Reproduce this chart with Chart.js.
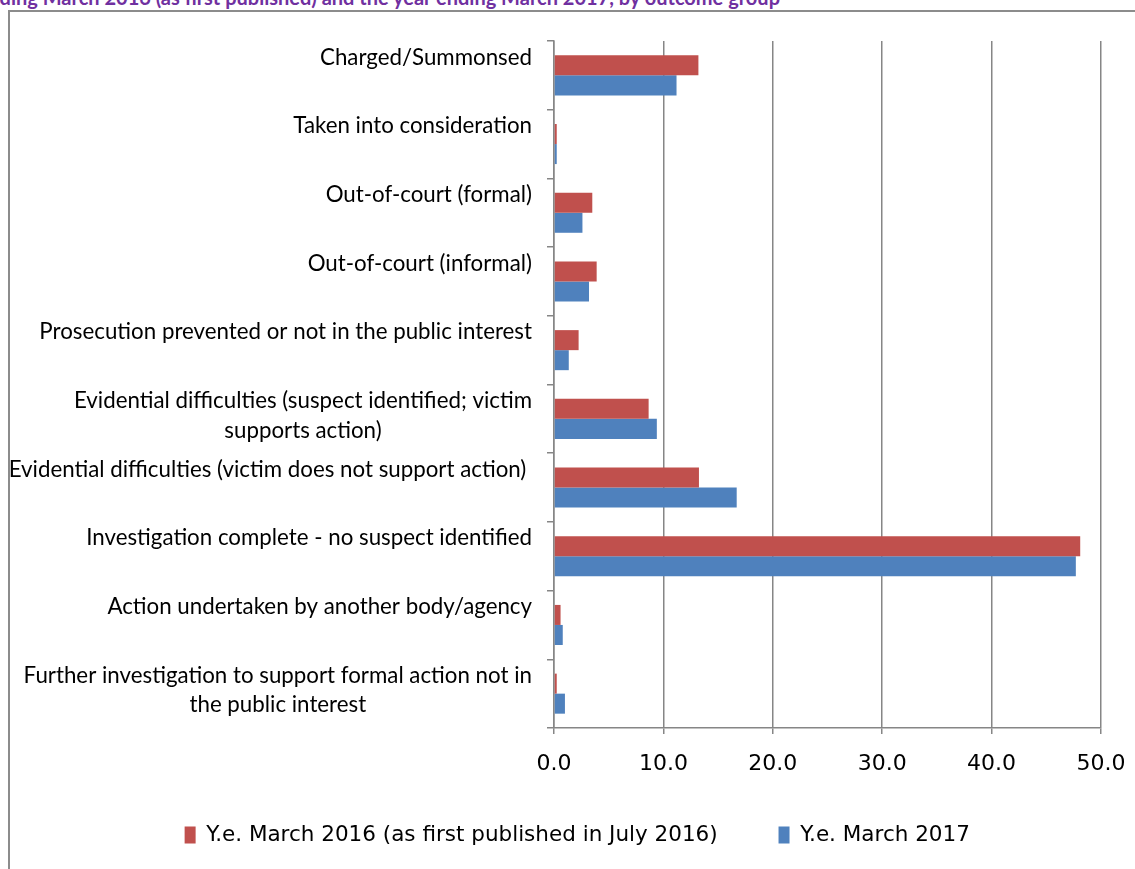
<!DOCTYPE html>
<html>
<head>
<meta charset="utf-8">
<script src="https://cdn.jsdelivr.net/npm/chart.js@4.4.1/dist/chart.umd.min.js"></script>
<style>
  html, body { margin: 0; padding: 0; background: #ffffff; overflow: hidden; }
  #wrap { position: relative; width: 1135px; height: 869px; overflow: hidden; background: #fff; }
  #frame { position: absolute; left: 8px; top: 10px; width: 1200px; height: 900px; border-left: 2px solid #8c8c8c; border-top: 2px solid #8c8c8c; }
  #title { position: absolute; right: 355px; top: -15px; white-space: nowrap; font: bold 20px Lato, "Open Sans", sans-serif; color: #7030A0; }
  #c { position: absolute; left: 0; top: 0; }
</style>
</head>
<body>
<div id="wrap">
  <div id="title">Figure 4: Proportion of offences recorded in the year ending March 2016 (as first published) and the year ending March 2017, by outcome group</div>
  <div id="frame"></div>
  <canvas id="c" width="1135" height="869"></canvas>
</div>
<script>
const categories = [
  "Charged/Summonsed",
  "Taken into consideration",
  "Out-of-court (formal)",
  "Out-of-court (informal)",
  "Prosecution prevented or not in the public interest",
  ["Evidential difficulties (suspect identified; victim", "supports action)"],
  "Evidential difficulties (victim does not support action) ",
  "Investigation complete - no suspect identified",
  "Action undertaken by another body/agency",
  ["Further investigation to support formal action not in", "the public interest"]
];
const seriesNames = ["Y.e. March 2016 (as first published in July 2016)", "Y.e. March 2017"];
const values2016 = [13.2, 0.25, 3.5, 3.9, 2.25, 8.65, 13.25, 48.1, 0.6, 0.25];
const values2017 = [11.2, 0.25, 2.6, 3.2, 1.35, 9.4, 16.7, 47.7, 0.8, 1.0];
const xTicks = [0, 10, 20, 30, 40, 50];

const GRID = '#868686';
const PAD_LEFT = 53.5;
const AXIS_X = 554;

const catLabelPlugin = {
  id: 'catLabels',
  afterDraw(chart) {
    const ctx = chart.ctx;
    const ys = chart.scales.y;
    ctx.save();
    ctx.font = '22.3px Lato, "Open Sans", sans-serif';
    ctx.fillStyle = '#000';
    ctx.textAlign = 'center';
    ctx.textBaseline = 'middle';
    const right = 532;
    categories.forEach((lab, i) => {
      const lines = Array.isArray(lab) ? lab : [lab];
      let w = 0;
      lines.forEach(l => { w = Math.max(w, ctx.measureText(l).width); });
      const cx = right - w / 2;
      const y0 = ys.getPixelForValue(i) - 18;
      lines.forEach((l, j) => ctx.fillText(l, cx, y0 + j * 29.5));
    });
    ctx.restore();
  }
};

new Chart(document.getElementById('c'), {
  type: 'bar',
  data: {
    labels: categories,
    datasets: [
      { label: seriesNames[0], data: values2016, backgroundColor: '#C0504D', borderWidth: 0 },
      { label: seriesNames[1], data: values2017, backgroundColor: '#4F81BD', borderWidth: 0 }
    ]
  },
  options: {
    indexAxis: 'y',
    responsive: false,
    animation: false,
    devicePixelRatio: 1,
    layout: { padding: { left: PAD_LEFT, right: 34, top: 41, bottom: 13.25 } },
    datasets: { bar: { categoryPercentage: 0.583, barPercentage: 1.0 } },
    plugins: {
      legend: {
        position: 'bottom',
        align: 'center',
        labels: {
          boxWidth: 11, boxHeight: 17, padding: 13,
          color: '#000',
          font: { family: '"DejaVu Sans", Verdana, sans-serif', size: 21.5 },
          generateLabels(chart) {
            const items = Chart.defaults.plugins.legend.labels.generateLabels(chart);
            items.forEach((it, i) => { if (i === 0) it.text = it.text + '\u00a0\u00a0\u00a0\u00a0\u00a0\u00a0\u00a0'; });
            return items;
          }
        }
      },
      tooltip: { enabled: false },
      title: { display: false }
    },
    scales: {
      x: {
        type: 'linear',
        min: 0, max: 50,
        afterBuildTicks(scale) { scale.ticks = xTicks.map(v => ({ value: v })); },
        afterFit(scale) { scale.height = 83.25; scale.paddingLeft = 0; scale.paddingRight = 0; },
        ticks: {
          color: '#000',
          padding: 17,
          font: { family: '"DejaVu Sans", Verdana, sans-serif', size: 22 },
          callback: v => Number(v).toFixed(1)
        },
        grid: { color: GRID, lineWidth: 1.5, tickLength: 6 },
        border: { color: GRID, width: 1.5 }
      },
      y: {
        type: 'category',
        afterFit(scale) { scale.width = AXIS_X - PAD_LEFT; },
        ticks: { display: false },
        grid: { offset: true, drawOnChartArea: false, color: GRID, lineWidth: 1.5, tickLength: 7 },
        border: { color: GRID, width: 1.5 }
      }
    }
  },
  plugins: [catLabelPlugin]
});
</script>
</body>
</html>
